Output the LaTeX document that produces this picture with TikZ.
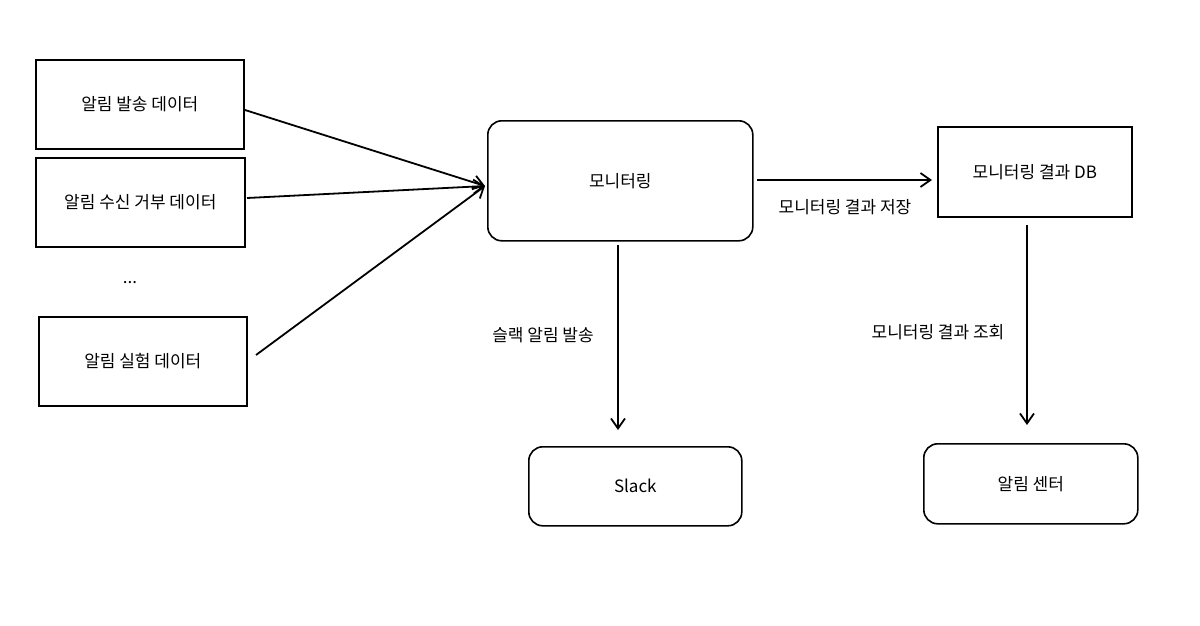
\documentclass[tikz,border=0pt]{standalone}
\usepackage{fontspec}
\setmainfont{Noto Sans CJK KR}
\usetikzlibrary{arrows.meta}
\begin{document}
\begin{tikzpicture}[x=1pt,y=-1pt,
  sq/.style={draw,line width=1.6pt,anchor=north west,inner sep=0pt,font=\fontsize{17}{20}\selectfont},
  rd/.style={sq,rounded corners=14pt},
  arr/.style={line width=1.8pt,-{Straight Barb[length=10pt,width=14pt]}},
  lbl/.style={font=\fontsize{17}{20}\selectfont}]
\useasboundingbox[fill=white] (0,0) rectangle (1200,625);
\node[sq,minimum width=208pt,minimum height=89pt] (a) at (35,59) {알림 발송 데이터};
\node[sq,minimum width=209pt,minimum height=89pt] (b) at (35,157) {알림 수신 거부 데이터};
\node[lbl] (dots) at (130,283) {...};
\node[sq,minimum width=208pt,minimum height=89pt] (c) at (38,316) {알림 실험 데이터};
\node[rd,minimum width=265pt,minimum height=120pt] (m) at (487,120) {모니터링};
\node[sq,minimum width=194pt,minimum height=90pt] (db) at (937,126) {모니터링 결과 DB};
\node[rd,minimum width=213pt,minimum height=79pt] (s) at (528,446) {Slack};
\node[rd,minimum width=214pt,minimum height=80pt] (n) at (923,443) {알림 센터};
\coordinate (t) at (485,186);
\draw[arr] (245,110) -- (t);
\draw[arr] (247,198) -- (t);
\draw[arr] (256,355) -- (t);
\draw[arr] (757,180) -- (932,180);
\node[lbl] (l1) at (845,207) {모니터링 결과 저장};
\draw[arr] (618,245) -- (618,430);
\node[lbl] (l2) at (543,335) {슬랙 알림 발송};
\draw[arr] (1027,225) -- (1027,425);
\node[lbl] (l3) at (938,332) {모니터링 결과 조회};
\end{tikzpicture}
\end{document}
